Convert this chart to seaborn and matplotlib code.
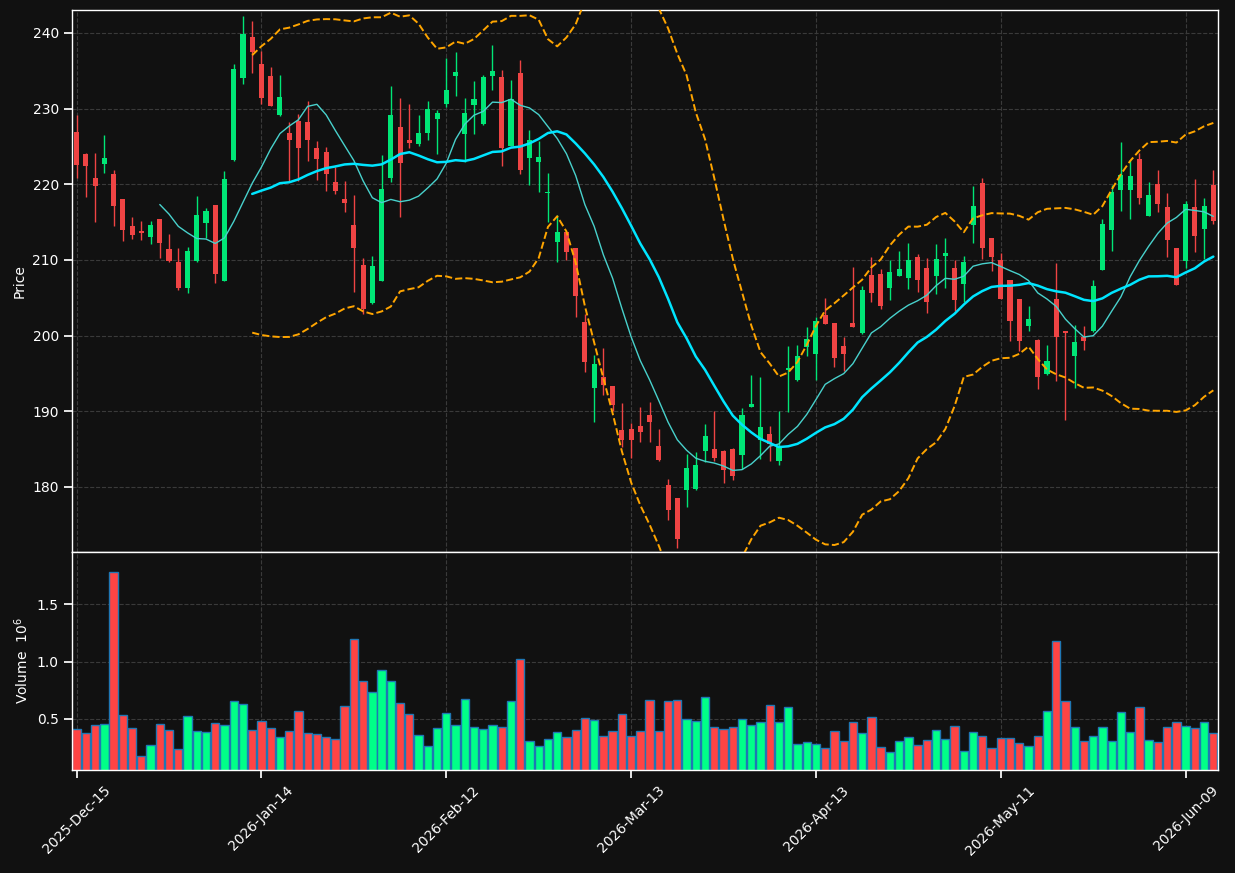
import numpy as np
import pandas as pd
import matplotlib
matplotlib.use('Agg')
import matplotlib.pyplot as plt
import seaborn as sns

# ===============================
# Daily OHLC + volume
# ===============================
holidays = ['2025-12-25', '2026-01-01', '2026-01-19', '2026-02-16', '2026-04-03', '2026-05-25']
dates = pd.bdate_range('2025-12-15', '2026-06-12', freq='C', holidays=holidays)

opens = [226.87, 224.00, 220.80, 222.67, 221.35, 218.02, 214.46, 213.80, 213.05, 215.38,
         211.45, 209.72, 206.35, 209.90, 214.92, 217.25, 207.26, 223.22, 234.03, 239.40,
         235.85, 234.25, 229.15, 226.73, 228.33, 228.19, 224.77, 224.22, 220.26, 218.02,
         214.60, 209.31, 204.34, 207.26, 220.85, 227.55, 225.82, 225.32, 226.78, 228.65,
         230.61, 234.30, 226.64, 230.47, 227.96, 234.30, 234.12, 225.00, 234.66, 223.49,
         222.95, 218.80, 212.41, 213.69, 211.55, 201.79, 193.03, 194.54, 193.35, 187.56,
         187.70, 188.11, 189.52, 185.46, 180.31, 178.49, 179.54, 179.67, 184.69, 185.05,
         184.69, 185.05, 184.19, 190.52, 186.24, 187.02, 183.46, 195.45, 194.08, 198.55,
         197.59, 202.75, 201.65, 198.69, 201.65, 200.37, 207.99, 208.13, 206.35, 207.90,
         207.62, 210.36, 208.95, 207.85, 210.54, 208.95, 206.85, 214.65, 220.16, 212.87,
         210.00, 207.35, 204.84, 201.33, 199.42, 194.86, 204.84, 200.56, 197.36, 199.83,
         200.56, 208.72, 214.00, 219.25, 219.25, 223.31, 215.83, 220.03, 216.97, 211.55,
         209.90, 216.97, 214.10, 219.89]
highs = [229.19, 224.10, 224.20, 226.55, 221.95, 218.10, 215.74, 215.10, 215.15, 215.40,
         213.37, 211.55, 211.77, 218.43, 216.93, 217.30, 221.71, 235.85, 242.19, 241.60,
         237.63, 235.53, 234.48, 228.24, 229.28, 231.02, 225.77, 224.91, 222.22, 220.48,
         218.52, 210.22, 210.50, 223.81, 232.93, 231.34, 230.56, 229.19, 231.02, 229.79,
         236.72, 237.49, 231.43, 233.66, 234.44, 238.45, 235.12, 233.80, 236.49, 227.23,
         225.77, 221.53, 215.88, 213.70, 211.60, 202.84, 197.41, 198.37, 193.40, 191.12,
         188.47, 190.52, 191.16, 187.65, 181.04, 178.50, 184.32, 184.64, 188.29, 190.07,
         184.87, 185.10, 190.43, 194.77, 194.54, 188.02, 190.07, 198.60, 198.73, 201.10,
         202.47, 204.98, 201.70, 199.78, 209.04, 206.62, 210.45, 208.76, 210.00, 211.14,
         212.18, 210.73, 210.31, 212.05, 212.96, 209.95, 210.54, 219.71, 220.85, 212.90,
         210.91, 207.40, 204.90, 203.93, 199.50, 198.82, 209.54, 200.60, 201.38, 201.33,
         207.35, 215.47, 219.94, 225.64, 223.26, 224.13, 220.35, 221.94, 218.89, 211.60,
         217.75, 220.76, 218.25, 221.94]
lows = [220.85, 218.35, 215.00, 221.50, 214.55, 212.45, 212.82, 212.60, 212.05, 210.30,
        209.77, 205.98, 205.57, 209.77, 212.87, 206.99, 207.20, 223.04, 233.30, 234.70,
        230.65, 230.30, 229.00, 220.48, 220.48, 223.08, 220.62, 219.12, 218.66, 216.29,
        205.71, 202.84, 204.16, 207.20, 220.30, 215.74, 224.86, 225.09, 225.91, 223.95,
        230.20, 231.61, 222.90, 226.68, 227.90, 232.52, 222.44, 225.00, 221.30, 219.84,
        219.02, 215.01, 209.68, 210.04, 202.52, 195.18, 188.56, 192.12, 189.98, 185.28,
        183.82, 185.92, 185.92, 183.45, 175.66, 171.93, 177.39, 179.60, 183.32, 183.46,
        180.58, 180.95, 182.32, 190.50, 183.68, 183.41, 182.86, 189.89, 194.00, 197.27,
        194.17, 201.47, 195.91, 195.27, 201.10, 200.19, 204.39, 203.47, 204.66, 207.90,
        206.12, 205.80, 203.02, 205.44, 206.26, 203.29, 204.48, 212.18, 210.13, 208.49,
        204.80, 199.28, 197.91, 200.56, 192.94, 194.80, 193.94, 188.84, 193.03, 198.14,
        200.50, 208.70, 211.14, 216.52, 215.47, 217.43, 215.80, 216.29, 210.45, 206.65,
        208.90, 211.00, 210.18, 214.69]
closes = [222.58, 222.45, 219.80, 223.45, 217.15, 214.00, 213.32, 213.60, 214.60, 212.28,
          209.90, 206.35, 211.18, 215.92, 216.47, 208.17, 220.67, 235.30, 239.90, 237.45,
          231.34, 230.33, 231.47, 225.86, 224.82, 225.86, 223.36, 221.40, 219.12, 217.56,
          211.59, 203.47, 209.17, 219.34, 229.10, 222.81, 225.45, 226.73, 230.01, 229.38,
          232.43, 234.80, 229.38, 231.24, 234.12, 235.03, 224.82, 231.29, 221.90, 225.91,
          223.58, 218.98, 213.69, 211.09, 205.30, 196.45, 196.27, 193.53, 190.89, 186.15,
          186.15, 187.20, 188.52, 183.50, 176.94, 173.11, 182.54, 182.95, 186.79, 183.82,
          182.27, 181.40, 189.52, 190.98, 187.97, 185.65, 185.42, 195.68, 197.32, 199.55,
          201.92, 201.56, 197.09, 197.55, 201.20, 206.03, 205.62, 203.93, 208.40, 208.86,
          210.00, 207.40, 204.43, 210.13, 210.91, 204.75, 209.72, 217.11, 211.59, 210.41,
          204.84, 201.97, 199.32, 202.20, 194.54, 196.68, 199.87, 200.28, 199.14, 199.28,
          206.58, 214.74, 218.93, 221.21, 221.08, 218.20, 218.57, 217.43, 212.69, 206.71,
          217.38, 213.19, 217.11, 215.19]
# volume in millions of shares
volume_m = [0.409, 0.374, 0.444, 0.453, 1.781, 0.532, 0.418, 0.172, 0.268, 0.453,
            0.400, 0.233, 0.524, 0.392, 0.383, 0.462, 0.444, 0.655, 0.629, 0.400,
            0.480, 0.418, 0.339, 0.392, 0.567, 0.374, 0.365, 0.339, 0.321, 0.614,
            1.201, 0.832, 0.735, 0.928, 0.832, 0.638, 0.541, 0.356, 0.260, 0.418,
            0.550, 0.444, 0.672, 0.427, 0.409, 0.444, 0.427, 0.655, 1.025, 0.304,
            0.260, 0.321, 0.383, 0.339, 0.400, 0.506, 0.488, 0.347, 0.392, 0.541,
            0.347, 0.392, 0.664, 0.392, 0.655, 0.664, 0.497, 0.480, 0.690, 0.427,
            0.409, 0.427, 0.497, 0.444, 0.471, 0.620, 0.471, 0.602, 0.277, 0.295,
            0.277, 0.242, 0.392, 0.304, 0.471, 0.374, 0.515, 0.251, 0.207, 0.304,
            0.339, 0.268, 0.312, 0.400, 0.321, 0.436, 0.216, 0.383, 0.347, 0.242,
            0.330, 0.330, 0.286, 0.260, 0.347, 0.567, 1.183, 0.655, 0.427, 0.304,
            0.347, 0.427, 0.304, 0.559, 0.383, 0.602, 0.312, 0.295, 0.427, 0.471,
            0.436, 0.418, 0.471, 0.374]

df = pd.DataFrame({'date': dates, 'open': opens, 'high': highs, 'low': lows,
                   'close': closes, 'volume': volume_m})
df['x'] = np.arange(len(df))

# ===============================
# Indicators
# ===============================
df['sma10'] = df['close'].rolling(10).mean()
df['sma20'] = df['close'].rolling(20).mean()
std20 = df['close'].rolling(20).std(ddof=0)
df['bb_up'] = df['sma20'] + 2 * std20
df['bb_low'] = df['sma20'] - 2 * std20

# ===============================
# Style
# ===============================
bg = '#111111'
sns.set_theme(style='ticks', rc={
    'figure.facecolor': bg, 'axes.facecolor': bg, 'savefig.facecolor': bg,
    'axes.edgecolor': 'white', 'axes.linewidth': 1.0,
    'axes.grid': True, 'grid.color': '#3a3a3a', 'grid.linestyle': '--', 'grid.linewidth': 0.8,
    'text.color': 'white', 'axes.labelcolor': 'white',
    'xtick.color': 'white', 'ytick.color': 'white',
})
plt.rcParams['font.family'] = ['DejaVu Sans']
plt.rcParams['font.size'] = 10
plt.rcParams['xtick.labelsize'] = 10
plt.rcParams['ytick.labelsize'] = 10
plt.rcParams['axes.labelsize'] = 10

fig = plt.figure(figsize=(12.35, 8.73), dpi=100)
ax = fig.add_axes([0.0583, 0.3677, 0.9279, 0.6209])
axv = fig.add_axes([0.0583, 0.1180, 0.9279, 0.2497], sharex=ax)

up = df['close'] >= df['open']
candle_col = np.where(up, '#00e676', '#ef4444')
vol_col = np.where(up, '#00ff88', '#ff4444')

# ===============================
# Candles
# ===============================
ax.vlines(df['x'], df['low'], df['high'], colors=candle_col, linewidth=1, zorder=2)
body_low = np.minimum(df['open'], df['close'])
body_h = np.maximum((df['close'] - df['open']).abs(), 0.1)
ax.bar(df['x'], body_h, bottom=body_low, width=0.55, color=candle_col, linewidth=0, zorder=2)

sns.lineplot(data=df, x='x', y='sma10', ax=ax, color='#48d1cc', linewidth=1, zorder=3)
sns.lineplot(data=df, x='x', y='sma20', ax=ax, color='#00e5ff', linewidth=1.8, zorder=3)
sns.lineplot(data=df, x='x', y='bb_up', ax=ax, color='orange', linewidth=1.4, linestyle='--', zorder=3)
sns.lineplot(data=df, x='x', y='bb_low', ax=ax, color='orange', linewidth=1.4, linestyle='--', zorder=3)

ax.set_xlim(-0.5, len(df) - 0.5)
ax.set_ylim(171.4, 243.04)
ax.set_yticks([180, 190, 200, 210, 220, 230, 240])
ax.set_ylabel('Price')
ax.set_xlabel('')
ax.tick_params(axis='x', labelbottom=False, length=0)

# ===============================
# Volume
# ===============================
axv.bar(df['x'], df['volume'], width=0.9, color=vol_col, edgecolor='#1f77b4', linewidth=1)
axv.set_ylim(0.05, 1.96)
axv.set_yticks([0.5, 1.0, 1.5])
axv.set_ylabel('Volume  $10^{6}$')

tick_idx = list(range(0, len(df), 20))
tick_labels = [df['date'][i].strftime('%Y-%b-%d') for i in tick_idx]
axv.set_xticks(tick_idx)
axv.set_xticklabels(tick_labels, rotation=45)

for a in (ax, axv):
    for s in a.spines.values():
        s.set_color('white')

plt.savefig('out.png', dpi=100, facecolor=bg)
plt.close()
